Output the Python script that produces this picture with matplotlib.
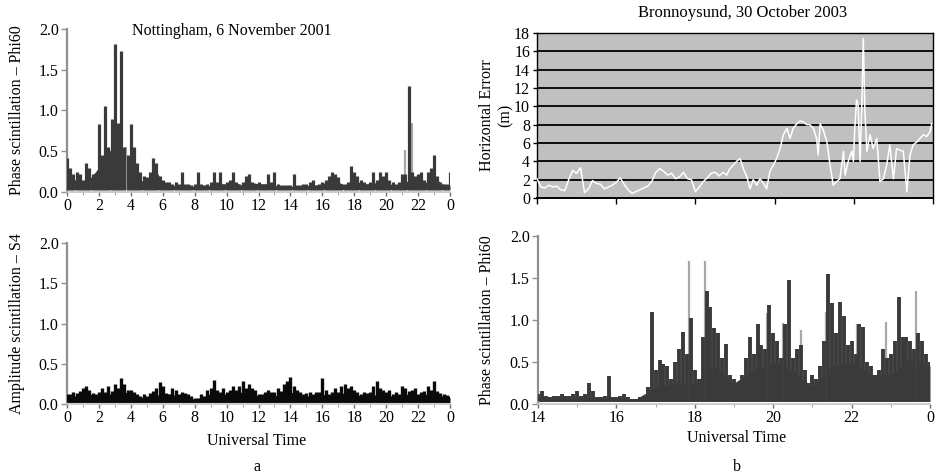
import numpy as np
import matplotlib
matplotlib.use('Agg')
import matplotlib.pyplot as plt

plt.rcParams['font.family'] = ['Liberation Serif', 'DejaVu Serif']

# ---------------- data ----------------
# (a) Nottingham, 6 November 2001 -- Phase scintillation Phi60, peaks every 0.2 h
nott_step = 0.2
nott_phi_peak = [
    0.42, 0.30, 0.22, 0.25, 0.22, 0.15, 0.35, 0.30, 0.22, 0.18,
    0.83, 0.45, 1.05, 0.55, 0.90, 1.82, 0.85, 1.73, 0.55, 0.45,
    0.83, 0.55, 0.35, 0.25, 0.20, 0.18, 0.25, 0.42, 0.35, 0.20,
    0.15, 0.12, 0.12, 0.10, 0.12, 0.10, 0.25, 0.10, 0.10, 0.08,
    0.10, 0.25, 0.10, 0.08, 0.10, 0.12, 0.25, 0.12, 0.25, 0.10,
    0.12, 0.15, 0.25, 0.12, 0.10, 0.12, 0.20, 0.22, 0.12, 0.10,
    0.12, 0.10, 0.10, 0.22, 0.12, 0.25, 0.10, 0.08, 0.08, 0.08,
    0.08, 0.22, 0.08, 0.08, 0.10, 0.10, 0.12, 0.15, 0.08, 0.10,
    0.12, 0.15, 0.20, 0.25, 0.22, 0.18, 0.10, 0.10, 0.12, 0.32,
    0.25, 0.20, 0.15, 0.12, 0.10, 0.12, 0.25, 0.15, 0.25, 0.20,
    0.25, 0.15, 0.12, 0.10, 0.12, 0.22, 0.22, 1.30, 0.25, 0.20,
    0.22, 0.25, 0.15, 0.25, 0.30, 0.46, 0.20, 0.12, 0.10, 0.10,
    0.25]
# dense core of the phase record, every 0.5 h
core_step = 0.5
nott_phi_core = [
    0.20, 0.15, 0.12, 0.18, 0.30, 0.45, 0.60, 0.45, 0.40, 0.15,
    0.12, 0.30, 0.10, 0.08, 0.08, 0.08, 0.07, 0.07, 0.08, 0.10,
    0.10, 0.12, 0.08, 0.12, 0.10, 0.10, 0.08, 0.07, 0.07, 0.07,
    0.08, 0.08, 0.10, 0.15, 0.12, 0.08, 0.15, 0.10, 0.10, 0.12,
    0.12, 0.08, 0.10, 0.15, 0.12, 0.12, 0.18, 0.10, 0.08]
# second (lighter) satellite spikes
nott_phi_light_t = [2.5, 3.7, 21.2, 21.6]
nott_phi_light_v = [0.50, 0.55, 0.52, 0.85]

# Amplitude scintillation S4, peaks every 0.2 h
nott_s4_peak = [
    0.13, 0.12, 0.15, 0.14, 0.16, 0.20, 0.22, 0.18, 0.14, 0.12,
    0.15, 0.20, 0.15, 0.22, 0.16, 0.25, 0.20, 0.32, 0.25, 0.18,
    0.17, 0.15, 0.12, 0.10, 0.12, 0.10, 0.14, 0.16, 0.20, 0.27,
    0.22, 0.14, 0.12, 0.20, 0.18, 0.12, 0.15, 0.14, 0.12, 0.10,
    0.08, 0.07, 0.12, 0.10, 0.18, 0.20, 0.30, 0.18, 0.15, 0.20,
    0.15, 0.18, 0.22, 0.17, 0.22, 0.28, 0.20, 0.25, 0.20, 0.18,
    0.12, 0.12, 0.15, 0.18, 0.15, 0.15, 0.20, 0.16, 0.25, 0.28,
    0.33, 0.22, 0.18, 0.15, 0.12, 0.14, 0.15, 0.12, 0.15, 0.15,
    0.32, 0.18, 0.12, 0.15, 0.20, 0.15, 0.22, 0.25, 0.20, 0.22,
    0.18, 0.15, 0.12, 0.15, 0.14, 0.15, 0.22, 0.28, 0.20, 0.18,
    0.15, 0.18, 0.12, 0.15, 0.12, 0.22, 0.20, 0.16, 0.18, 0.20,
    0.12, 0.15, 0.16, 0.22, 0.18, 0.28, 0.16, 0.14, 0.12, 0.11,
    0.10]
nott_s4_core = [
    0.12, 0.10, 0.14, 0.12, 0.10, 0.12, 0.13, 0.16, 0.12, 0.08,
    0.08, 0.10, 0.13, 0.12, 0.10, 0.08, 0.06, 0.08, 0.13, 0.12,
    0.12, 0.13, 0.15, 0.14, 0.10, 0.10, 0.10, 0.13, 0.15, 0.12,
    0.10, 0.10, 0.12, 0.10, 0.10, 0.16, 0.12, 0.10, 0.10, 0.12,
    0.10, 0.10, 0.12, 0.12, 0.10, 0.12, 0.12, 0.10, 0.08]

# (b) Bronnoysund, 30 October 2003 -- Horizontal error (m)
herr_time = [
    14.0, 14.1, 14.2, 14.3, 14.4, 14.5, 14.6, 14.7, 14.8, 14.9,
    15.0, 15.1, 15.2, 15.3, 15.4, 15.5, 15.6, 15.7, 15.8, 15.9,
    16.0, 16.1, 16.2, 16.3, 16.4, 16.5, 16.6, 16.7, 16.8, 16.9,
    17.0, 17.1, 17.2, 17.3, 17.4, 17.5, 17.6, 17.7, 17.8, 17.9,
    18.0, 18.1, 18.2, 18.3, 18.4, 18.5, 18.6, 18.7,
    18.79, 18.87, 18.96, 19.04, 19.13, 19.21, 19.30, 19.38, 19.46, 19.55,
    19.63, 19.72, 19.80, 19.88, 19.97, 20.05, 20.14, 20.22, 20.31, 20.39,
    20.47, 20.56, 20.64, 20.73, 20.81, 20.89, 20.98, 21.06, 21.10, 21.15,
    21.23, 21.32, 21.40, 21.48, 21.57, 21.65, 21.74, 21.78, 21.86, 21.95,
    21.99, 22.03, 22.07, 22.11, 22.16, 22.20, 22.24, 22.28, 22.33, 22.41,
    22.49, 22.58, 22.66, 22.75, 22.83, 22.91, 23.00, 23.08, 23.17, 23.25,
    23.34, 23.42, 23.50, 23.59, 23.67, 23.76, 23.84, 23.92, 23.97]
herr_value = [
    2.1, 1.2, 1.1, 1.4, 1.2, 1.3, 0.9, 0.8, 2.0, 3.0,
    2.7, 3.3, 0.6, 1.0, 1.9, 1.6, 1.5, 1.0, 1.2, 1.4,
    1.7, 2.2, 1.5, 0.9, 0.5, 0.7, 0.9, 1.1, 1.3, 1.8,
    2.8, 3.2, 2.9, 2.5, 2.7, 2.1, 2.3, 2.8, 2.1, 2.0,
    0.7, 1.2, 1.8, 2.2, 2.7, 2.8, 2.4, 2.8,
    2.5, 3.2, 3.6, 4.0, 4.3, 3.2, 2.3, 1.0, 2.0, 1.4,
    2.1, 1.6, 1.0, 2.9, 3.6, 4.3, 5.4, 6.9, 7.6, 6.5,
    7.6, 8.1, 8.4, 8.3, 8.0, 8.0, 7.6, 6.5, 4.7, 8.1,
    7.4, 6.1, 3.6, 1.4, 1.8, 2.1, 5.1, 2.5, 4.0, 5.1,
    4.0, 8.0, 10.7, 10.1, 4.0, 9.8, 17.4, 9.4, 5.1, 6.9,
    5.4, 6.5, 1.8, 2.1, 3.6, 5.8, 2.1, 5.4, 5.2, 5.1,
    0.7, 4.7, 5.8, 6.1, 6.5, 6.9, 6.7, 7.2, 8.1]

# Phase scintillation Phi60, peaks every 0.1 h from 14 UT
bron_step = 0.1
bron_phi_peak = [
    0.12, 0.15, 0.10, 0.08, 0.10, 0.10, 0.12, 0.10, 0.10, 0.12,
    0.15, 0.10, 0.12, 0.25, 0.15, 0.08, 0.08, 0.10, 0.33, 0.08,
    0.08, 0.10, 0.12, 0.08, 0.06, 0.06, 0.08, 0.10, 0.20, 1.10,
    0.40, 0.52, 0.48, 0.45, 0.30, 0.50, 0.65, 0.86, 0.60, 1.02,
    0.40, 0.30, 0.80, 1.35, 1.15, 0.90, 0.85, 0.55, 0.72, 0.35,
    0.30, 0.25, 0.35, 0.55, 0.80, 0.60, 0.95, 0.70, 0.65, 1.18,
    0.85, 0.75, 0.55, 0.95, 1.48, 0.55, 0.65, 0.70, 0.40, 0.25,
    0.35, 0.30, 0.45, 0.75, 1.55, 1.20, 0.85, 1.22, 1.05, 0.70,
    0.75, 0.60, 0.95, 0.92, 0.50, 0.45, 0.35, 0.40, 0.65, 0.55,
    0.60, 0.75, 1.27, 0.80, 0.80, 0.75, 0.65, 0.85, 0.75, 0.60,
    0.50]
bron_phi_core = [
    0.08, 0.08, 0.08, 0.07, 0.07, 0.06, 0.20, 0.25, 0.25, 0.45,
    0.25, 0.40, 0.50, 0.40, 0.20, 0.45, 0.50, 0.35, 0.35, 0.55,
    0.45]
bron_phi_light_t = [17.85, 18.25, 18.5, 19.85, 20.25, 20.7, 21.35, 22.15, 22.88, 23.65]
bron_phi_light_v = [1.70, 1.70, 0.90, 1.08, 0.97, 0.88, 1.10, 0.95, 0.98, 1.35]

left_xticks = [0, 2, 4, 6, 8, 10, 12, 14, 16, 18, 20, 22, 24]
left_xlabels = ['0', '2', '4', '6', '8', '10', '12', '14', '16', '18', '20', '22', '0']
right_xticks = [14, 16, 18, 20, 22, 24]
right_xlabels = ['14', '16', '18', '20', '22', '0']
scint_yticks = [0.0, 0.5, 1.0, 1.5, 2.0]
herr_yticks = list(range(0, 19, 2))

# ---------------- figure ----------------
W, H = 936, 474
fig = plt.figure(figsize=(W / 100, H / 100), dpi=100)


def px_axes(x0, y_top, x1, y_bot):
    return fig.add_axes([x0 / W, 1 - y_bot / H, (x1 - x0) / W, (y_bot - y_top) / H])


FS = 11.5
DARK = '#3a3a3a'
LIGHT = '#a8a8a8'


def style_scint(ax, xticks, xlabels, ylabel):
    ax.set_ylim(0, 2.0)
    ax.set_yticks(scint_yticks)
    ax.set_yticklabels([f'{v:.1f}' for v in scint_yticks], fontsize=FS)
    ax.set_xticks(xticks)
    ax.set_xticklabels(xlabels, fontsize=FS)
    for s in ('top', 'right'):
        ax.spines[s].set_visible(False)
    ax.spines['left'].set_color('#909090')
    ax.spines['left'].set_linewidth(1.6)
    ax.spines['bottom'].set_color('#c4c4c4')
    ax.spines['bottom'].set_linewidth(1.2)
    ax.tick_params(axis='y', direction='out', length=4, width=1, color='#909090', pad=2)
    ax.tick_params(axis='x', direction='out', length=3, width=1, color='#707070', pad=1)
    ax.set_ylabel(ylabel, fontsize=FS)
    ax.patch.set_alpha(0)


def draw_scint(ax, t0, step, peak, core, color, bar_lw, light_t=None, light_v=None, base=0.03):
    tp = t0 + step * np.arange(len(peak))
    tc = t0 + core_step * np.arange(len(core))
    ax.fill_between(tc, base, core, color=color, lw=0, zorder=2)
    if light_t is not None:
        ax.vlines(light_t, base, light_v, color=LIGHT, lw=1.6, zorder=2.5)
    ax.vlines(tp, base, peak, color=color, lw=bar_lw, zorder=3)


# (a) top: phase
ax1 = px_axes(67, 29, 450, 192)
draw_scint(ax1, 0.0, nott_step, nott_phi_peak, nott_phi_core, DARK, 2.3,
           nott_phi_light_t, nott_phi_light_v)
ax1.set_xlim(0, 24)
style_scint(ax1, left_xticks, left_xlabels, 'Phase scintillation \u2013 Phi60')
ax1.set_xticks(range(1, 24, 2), minor=True)
ax1.tick_params(axis='x', which='minor', direction='out', length=2, color='#909090')
ax1.yaxis.set_label_coords(-0.11, 0.5)
ax1.text(0.43, 0.985, 'Nottingham, 6 November 2001', transform=ax1.transAxes,
         ha='center', va='center', fontsize=11.5)

# (a) bottom: amplitude
ax2 = px_axes(67, 243, 450, 404)
draw_scint(ax2, 0.0, nott_step, nott_s4_peak, nott_s4_core, '#0a0a0a', 2.4, base=0.02)
ax2.set_xlim(0, 24)
style_scint(ax2, left_xticks, left_xlabels, 'Amplitude scintillation \u2013 S4')
ax2.set_xticks(range(1, 24, 2), minor=True)
ax2.tick_params(axis='x', which='minor', direction='out', length=2, color='#909090')
ax2.yaxis.set_label_coords(-0.11, 0.5)

# (b) top: horizontal error
ax3 = px_axes(537, 33, 933, 198)
ax3.set_facecolor('#c0c0c0')
ax3.set_xlim(14, 24)
ax3.set_ylim(0, 18)
ax3.set_yticks(herr_yticks)
ax3.set_yticklabels([str(v) for v in herr_yticks], fontsize=FS)
ax3.set_xticks(right_xticks)
ax3.set_xticklabels([])
for y in herr_yticks[1:]:
    ax3.axhline(y, color='black', lw=1.3, zorder=1)
for s in ax3.spines.values():
    s.set_color('black')
    s.set_linewidth(1.0)
ax3.spines['bottom'].set_linewidth(1.4)
ax3.tick_params(axis='y', direction='out', length=3, width=1, pad=2)
ax3.tick_params(axis='x', direction='out', length=4, width=1)
ax3.plot(herr_time, herr_value, color='white', lw=1.1, zorder=3)
ax3.set_ylabel('Horizontal Errorr\n(m)', fontsize=FS, linespacing=1.15)
ax3.yaxis.set_label_coords(-0.06, 0.5)
fig.text(743 / W, 1 - 13 / H, 'Bronnoysund, 30 October 2003', ha='center', va='center',
         fontsize=12)

# (b) bottom: phase
ax4 = px_axes(538, 236, 930, 404)
draw_scint(ax4, 14.0, bron_step, bron_phi_peak, bron_phi_core, DARK, 2.8,
           bron_phi_light_t, bron_phi_light_v)
ax4.set_xlim(14, 24)
style_scint(ax4, right_xticks, right_xlabels, 'Phase scintillation \u2013 Phi60')
ax4.set_xticks(range(15, 24, 2), minor=True)
ax4.tick_params(axis='x', which='minor', direction='out', length=2, color='#909090')
ax4.yaxis.set_label_coords(-0.11, 0.5)

fig.text(257 / W, 1 - 441 / H, 'Universal Time', ha='center', va='center', fontsize=FS)
fig.text(257 / W, 1 - 467 / H, 'a', ha='center', va='center', fontsize=FS)
fig.text(737 / W, 1 - 438 / H, 'Universal Time', ha='center', va='center', fontsize=FS)
fig.text(737 / W, 1 - 467 / H, 'b', ha='center', va='center', fontsize=FS)

fig.savefig('out.png', dpi=100)
